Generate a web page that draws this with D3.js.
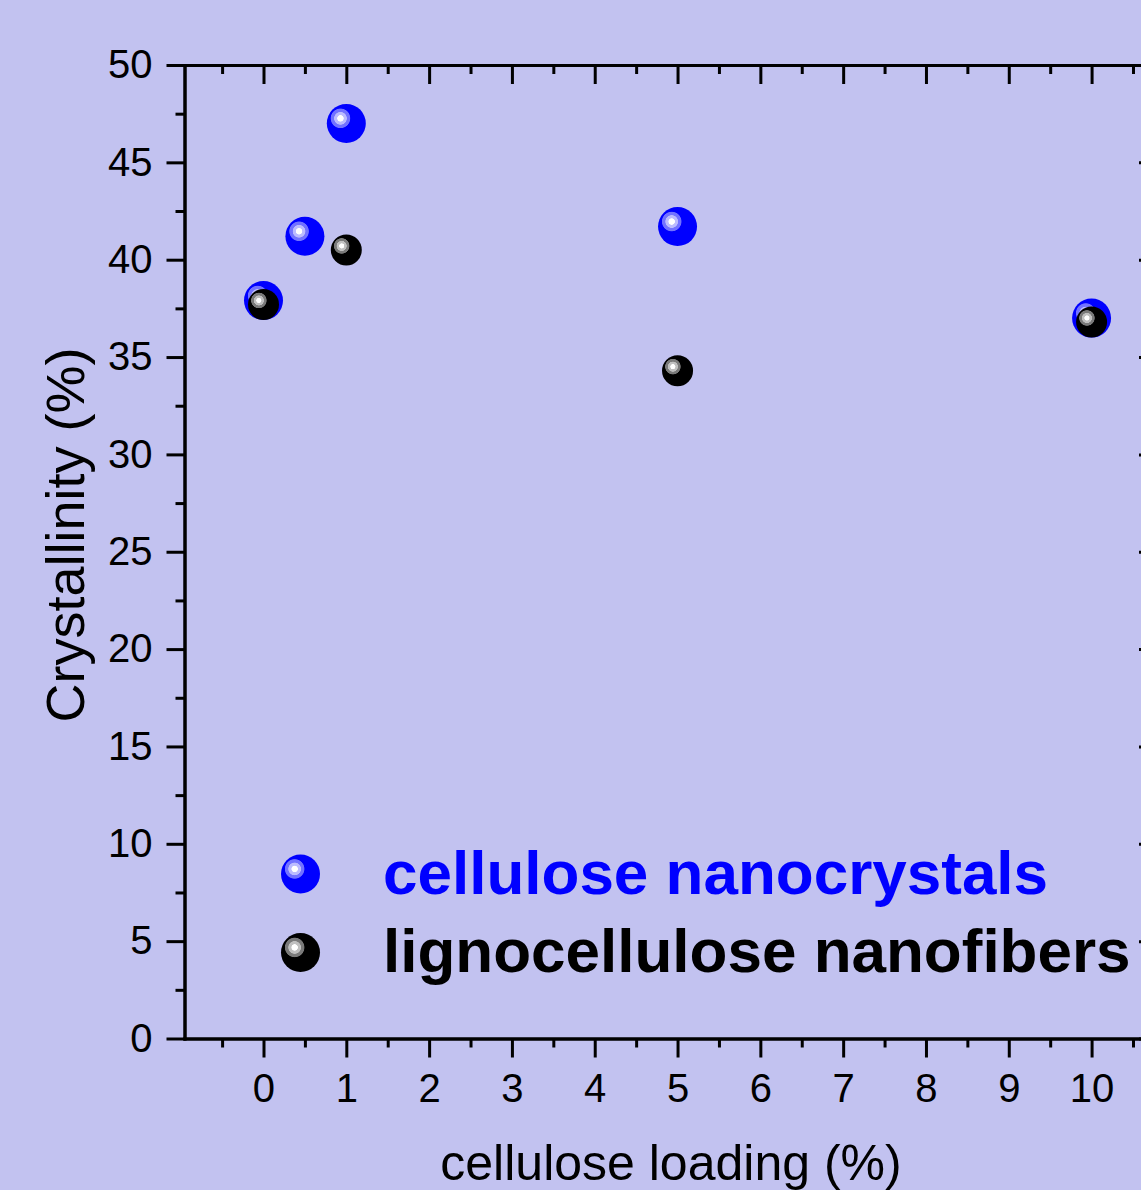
<!DOCTYPE html>
<html>
<head>
<meta charset="utf-8">
<script src="https://d3js.org/d3.v7.min.js"></script>
<style>
  html, body { margin: 0; padding: 0; background: #c2c2f0; }
  svg { display: block; font-family: "Liberation Sans", Arial, sans-serif; }
  .axis path, .axis line { stroke: #000; stroke-width: 3; }
  .axis text { font-size: 40px; fill: #000; font-family: "Liberation Sans", Arial, sans-serif; }
</style>
</head>
<body>
<svg width="1141" height="1190"></svg>
<script>
// data
var cncLoading = [0, 0.5, 1, 5, 10];
var cncCryst   = [37.9, 41.2, 47.0, 41.7, 37.0];
var lcnfLoading = [0, 1, 5, 10];
var lcnfCryst   = [37.7, 40.5, 34.3, 36.8];

var xMajor = [0, 1, 2, 3, 4, 5, 6, 7, 8, 9, 10];
var xMinor = [-0.5, 0.5, 1.5, 2.5, 3.5, 4.5, 5.5, 6.5, 7.5, 8.5, 9.5, 10.5];
var yMajor = [0, 5, 10, 15, 20, 25, 30, 35, 40, 45, 50];
var yMinor = [2.5, 7.5, 12.5, 17.5, 22.5, 27.5, 32.5, 37.5, 42.5, 47.5];

var seriesNames = ["cellulose nanocrystals", "lignocellulose nanofibers"];
var seriesColors = ["#0000ff", "#000000"];

// plot frame (note: "top" is reserved on window)
var plotLeft = 184.5, plotRight = 1157, plotTop = 65, plotBottom = 1038.5;

var svg = d3.select("svg");

svg.append("rect").attr("width", 1141).attr("height", 1190).attr("fill", "#c2c2f0");

var x = d3.scaleLinear().domain([-0.954, 10.79]).range([plotLeft, plotRight]);
var y = d3.scaleLinear().domain([0, 50]).range([plotBottom, plotTop]);

// sphere gradients
var defs = svg.append("defs");
function sphere(id, base, mid, light) {
  var g = defs.append("radialGradient").attr("id", id)
    .attr("cx", 0.35).attr("cy", 0.37).attr("r", 0.5);
  var stops = [[0, "#ffffff"], [0.15, "#ffffff"], [0.18, light], [0.31, light],
               [0.34, mid], [0.48, mid], [0.52, base], [1, base]];
  stops.forEach(function(s) {
    g.append("stop").attr("offset", s[0]).attr("stop-color", s[1]);
  });
}
sphere("blueBall", "#0000ff", "#7272ff", "#bcbcff");
sphere("blackBall", "#000000", "#7a7a7a", "#c0c0c0");

// axes
function drawAxis(axisFn, scale, values, size, pad, transform) {
  var a = axisFn(scale).tickValues(values).tickSizeInner(size).tickSizeOuter(0)
    .tickPadding(pad || 0);
  if (!pad) a.tickFormat("");
  return svg.append("g").attr("class", "axis").attr("transform", transform).call(a);
}

// bottom (outward)
drawAxis(d3.axisBottom, x, xMajor, 19, 16, "translate(0," + plotBottom + ")");
drawAxis(d3.axisBottom, x, xMinor, 9, 0, "translate(0," + plotBottom + ")");
// top (inward)
drawAxis(d3.axisTop, x, xMajor, -19, 0, "translate(0," + plotTop + ")");
drawAxis(d3.axisTop, x, xMinor, -9, 0, "translate(0," + plotTop + ")");
// left (outward)
drawAxis(d3.axisLeft, y, yMajor, 18, 14, "translate(" + plotLeft + ",0)");
drawAxis(d3.axisLeft, y, yMinor, 9, 0, "translate(" + plotLeft + ",0)");
// right (inward)
drawAxis(d3.axisRight, y, yMajor, -18, 0, "translate(" + plotRight + ",0)");
drawAxis(d3.axisRight, y, yMinor, -9, 0, "translate(" + plotRight + ",0)");

svg.selectAll(".axis path").attr("stroke-linecap", "square");

// axis titles
svg.append("text")
  .attr("x", 671).attr("y", 1180)
  .attr("text-anchor", "middle")
  .attr("font-size", 50)
  .text("cellulose loading (%)");

svg.append("text")
  .attr("transform", "translate(84,535) rotate(-90)")
  .attr("text-anchor", "middle")
  .attr("font-size", 54)
  .text("Crystallinity (%)");

// points
var cnc = cncLoading.map(function(d, i) { return { x: d, y: cncCryst[i] }; });
var lcnf = lcnfLoading.map(function(d, i) { return { x: d, y: lcnfCryst[i] }; });

svg.selectAll(".cnc").data(cnc).enter().append("circle")
  .attr("class", "cnc")
  .attr("cx", function(d) { return x(d.x); })
  .attr("cy", function(d) { return y(d.y); })
  .attr("r", 19.5)
  .attr("fill", "url(#blueBall)");

svg.selectAll(".lcnf").data(lcnf).enter().append("circle")
  .attr("class", "lcnf")
  .attr("cx", function(d) { return x(d.x); })
  .attr("cy", function(d) { return y(d.y); })
  .attr("r", 15.5)
  .attr("fill", "url(#blackBall)");

// legend
var legend = svg.append("g");
var legY = [874, 952.5];
seriesNames.forEach(function(name, i) {
  legend.append("circle")
    .attr("cx", 300.5).attr("cy", legY[i]).attr("r", 19.5)
    .attr("fill", i === 0 ? "url(#blueBall)" : "url(#blackBall)");
  legend.append("text")
    .attr("x", 383).attr("y", legY[i] + 19.5)
    .attr("font-size", 62)
    .attr("font-weight", "bold")
    .attr("fill", seriesColors[i])
    .text(name);
});
</script>
</body>
</html>
